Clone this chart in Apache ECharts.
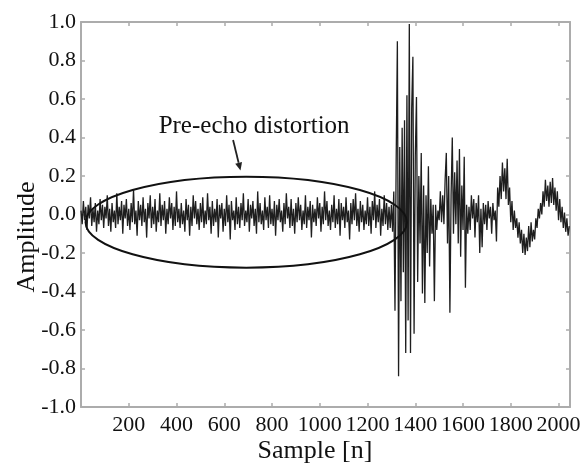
<!DOCTYPE html>
<html>
<head>
<meta charset="utf-8">
<script src="https://cdn.jsdelivr.net/npm/echarts@6/dist/echarts.min.js"></script>
<style>
  html, body { margin: 0; padding: 0; background: #fff; }
  #main { width: 586px; height: 464px; }
</style>
</head>
<body>
<div id="main"></div>
<script>
// sample spacing of the amplitude list below
var sampleStep = 5;

// pre-echo noise (0 .. 1305) followed by the echo burst (1310 .. 2045)
var amplitude = [
  0.02,-0.05,0.07,-0.03,0.04,-0.08,0.05,-0.02,0.09,-0.06,0.03,-0.04,0.06,-0.09,0.02,-0.05,0.08,-0.03,0.05,-0.07,
  0.04,-0.02,0.10,-0.06,0.03,-0.09,0.06,-0.04,0.02,-0.07,0.11,-0.05,0.04,-0.03,0.07,-0.10,0.05,-0.02,0.08,-0.06,
  0.03,-0.08,0.06,-0.04,0.13,-0.05,0.02,-0.11,0.07,-0.03,0.05,-0.06,0.09,-0.04,0.03,-0.12,0.06,-0.02,0.10,-0.07,
  0.04,-0.05,0.08,-0.09,0.02,-0.04,0.11,-0.06,0.05,-0.03,0.07,-0.10,0.03,-0.05,0.09,-0.02,0.06,-0.08,0.04,-0.06,
  0.12,-0.04,0.03,-0.07,0.06,-0.05,0.02,-0.09,0.08,-0.03,0.05,-0.11,0.04,-0.06,0.10,-0.02,0.07,-0.05,0.03,-0.08,
  0.06,-0.04,0.09,-0.07,0.02,-0.05,0.11,-0.03,0.04,-0.10,0.07,-0.06,0.03,-0.04,0.08,-0.12,0.05,-0.02,0.06,-0.09,
  0.03,-0.06,0.10,-0.04,0.05,-0.13,0.07,-0.03,0.02,-0.08,0.09,-0.05,0.04,-0.07,0.06,-0.03,0.11,-0.06,0.02,-0.04,
  0.08,-0.09,0.05,-0.02,0.07,-0.06,0.03,-0.10,0.12,-0.04,0.06,-0.05,0.02,-0.08,0.09,-0.03,0.04,-0.07,0.10,-0.05,
  0.03,-0.06,0.07,-0.11,0.05,-0.03,0.08,-0.04,0.02,-0.09,0.06,-0.05,0.11,-0.02,0.04,-0.07,0.08,-0.06,0.03,-0.10,
  0.06,-0.04,0.09,-0.03,0.05,-0.08,0.02,-0.05,0.10,-0.07,0.04,-0.03,0.07,-0.12,0.05,-0.04,0.03,-0.06,0.09,-0.02,
  0.06,-0.09,0.04,-0.05,0.12,-0.03,0.07,-0.06,0.02,-0.08,0.05,-0.04,0.10,-0.07,0.03,-0.05,0.08,-0.11,0.06,-0.03,
  0.04,-0.07,0.09,-0.04,0.02,-0.13,0.06,-0.05,0.08,-0.03,0.11,-0.06,0.03,-0.09,0.07,-0.04,0.05,-0.08,0.02,-0.05,
  0.09,-0.06,0.04,-0.10,0.07,-0.03,0.12,-0.07,0.05,-0.04,0.08,-0.11,0.03,-0.06,0.10,-0.05,0.06,-0.08,0.04,-0.07,
  0.05,-0.09,
  0.12,-0.50,0.28,0.90,-0.84,0.35,-0.45,0.45,-0.30,0.49,-0.72,0.62,-0.55,0.99,-0.72,0.55,0.82,-0.62,0.30,0.61,
  -0.35,0.20,-0.15,0.32,-0.41,0.15,-0.46,0.10,-0.20,0.25,-0.27,0.08,-0.10,0.05,-0.45,0.05,-0.08,0.02,-0.03,0.12,
  -0.04,0.10,-0.05,0.18,0.32,-0.15,0.20,-0.51,0.10,0.40,-0.10,0.22,-0.05,0.28,-0.15,0.34,-0.22,0.15,-0.08,0.30,
  -0.38,0.05,-0.10,0.04,-0.08,0.10,-0.02,0.08,-0.12,0.06,-0.04,0.10,-0.20,0.03,-0.17,0.06,-0.05,0.05,-0.08,0.07,
  -0.02,0.04,-0.10,0.06,-0.03,0.02,-0.14,0.14,0.04,0.20,0.08,0.27,0.12,0.24,0.08,0.29,0.05,0.14,-0.04,0.07,
  -0.08,0.02,-0.07,-0.02,-0.12,-0.04,-0.15,-0.08,-0.20,-0.10,-0.21,-0.12,-0.19,-0.06,-0.17,-0.04,-0.14,-0.08,-0.13,-0.02,
  -0.07,0.03,-0.02,0.06,0.00,0.12,0.04,0.18,0.07,0.15,0.04,0.17,0.06,0.19,0.05,0.14,0.02,0.12,-0.03,0.08,
  -0.04,0.04,-0.07,0.01,-0.09,-0.02,-0.11,-0.06
];

var xRange = [0, 2048];
var yRange = [-1, 1];
var xTickStep = 200;
var yTickStep = 0.2;

var xLabel = 'Sample [n]';
var yLabel = 'Amplitude';
var noteText = 'Pre-echo distortion';

var serif = '"Liberation Serif", "DejaVu Serif", serif';
var frameColor = '#acacac';

var points = amplitude.map(function (v, i) { return [i * sampleStep, v]; });

var chart = echarts.init(document.getElementById('main'));

var frameAxis = {
  axisLine: { show: true, onZero: false, lineStyle: { color: frameColor, width: 2 } },
  axisTick: { show: true, inside: true, length: 4, lineStyle: { color: frameColor, width: 1.5 } },
  splitLine: { show: false }
};

chart.setOption({
  animation: false,
  backgroundColor: '#fff',
  grid: { left: 81, top: 22, right: 16, bottom: 57, containLabel: false },
  xAxis: [
    echarts.util.merge({
      type: 'value', min: xRange[0], max: xRange[1], interval: xTickStep,
      axisLabel: {
        color: '#111', fontFamily: serif, fontSize: 22, margin: 7,
        formatter: function (v) { return v === 0 ? '' : String(v); }
      }
    }, frameAxis, true),
    echarts.util.merge({
      type: 'value', position: 'top', min: xRange[0], max: xRange[1], interval: xTickStep,
      axisLabel: { show: false }
    }, frameAxis, true)
  ],
  yAxis: [
    echarts.util.merge({
      type: 'value', min: yRange[0], max: yRange[1], interval: yTickStep,
      axisLabel: {
        color: '#111', fontFamily: serif, fontSize: 22, margin: 5,
        formatter: function (v) { return v.toFixed(1); }
      }
    }, frameAxis, true),
    echarts.util.merge({
      type: 'value', position: 'right', min: yRange[0], max: yRange[1], interval: yTickStep,
      axisLabel: { show: false }
    }, frameAxis, true)
  ],
  series: [{
    type: 'line',
    data: points,
    showSymbol: false,
    symbol: 'none',
    sampling: null,
    lineStyle: { color: '#1e1e1e', width: 1.3 },
    z: 3
  }]
});

// annotation anchors in data coordinates
var ell = { cx: 692, cy: -0.04, rx: 673, ry: 0.236 };
var arrowFrom = [637, 0.387];
var arrowTo = [668, 0.228];
var notePos = [725, 0.455];

function px(p) { return chart.convertToPixel({ gridIndex: 0 }, p); }

var c = px([ell.cx, ell.cy]);
var e = px([ell.cx + ell.rx, ell.cy + ell.ry]);
var a0 = px(arrowFrom), a1 = px(arrowTo);
var dx = a1[0] - a0[0], dy = a1[1] - a0[1];
var len = Math.sqrt(dx * dx + dy * dy);
var ux = dx / len, uy = dy / len;
var headL = 8, headW = 3.5;
var base = [a1[0] - ux * headL, a1[1] - uy * headL];
var np = px(notePos);

chart.setOption({
  graphic: [
    {
      type: 'ellipse', z: 10,
      shape: { cx: c[0], cy: c[1], rx: e[0] - c[0], ry: c[1] - e[1] },
      style: { fill: 'none', stroke: '#111', lineWidth: 2 }
    },
    {
      type: 'line', z: 10,
      shape: { x1: a0[0], y1: a0[1], x2: base[0], y2: base[1] },
      style: { stroke: '#222', lineWidth: 1.8 }
    },
    {
      type: 'polygon', z: 10,
      shape: { points: [
        [a1[0], a1[1]],
        [base[0] - uy * headW, base[1] + ux * headW],
        [base[0] + uy * headW, base[1] - ux * headW]
      ] },
      style: { fill: '#222' }
    },
    {
      type: 'text', z: 10, x: np[0], y: np[1],
      style: { text: noteText, font: '25px ' + serif, fill: '#111', textAlign: 'center', textVerticalAlign: 'middle' }
    },
    {
      type: 'text', z: 10, x: 27, y: 237, rotation: Math.PI / 2,
      style: { text: yLabel, font: '26px ' + serif, fill: '#111', textAlign: 'center', textVerticalAlign: 'middle' }
    },
    {
      type: 'text', z: 10, x: 315, y: 451,
      style: { text: xLabel, font: '26px ' + serif, fill: '#111', textAlign: 'center', textVerticalAlign: 'middle' }
    }
  ]
});
</script>
</body>
</html>
